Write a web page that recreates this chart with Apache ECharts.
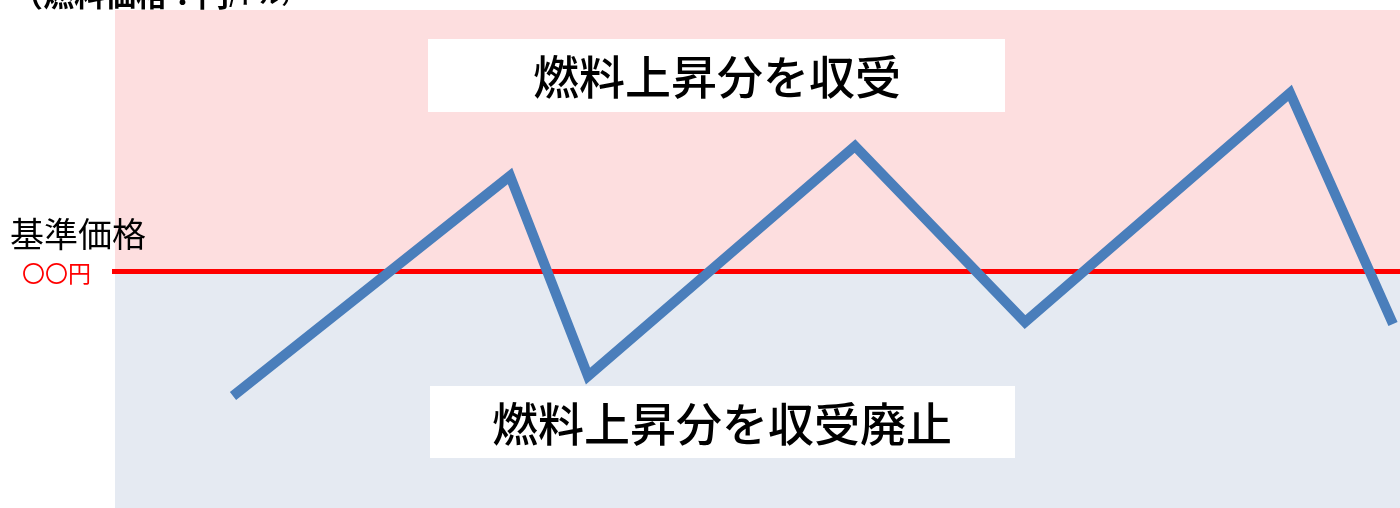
<!DOCTYPE html>
<html><head><meta charset="utf-8">
<script src="https://cdn.jsdelivr.net/npm/echarts@6/dist/echarts.min.js"></script>
<style>html,body{margin:0;padding:0;background:#fff}#c{width:1400px;height:508px}</style>
</head><body><div id="c"></div>
<script>
// x: position along the time axis (chart units), y: fuel price (chart units)
const xValues = [118, 395, 473, 740, 910, 1175, 1278];
const priceValues = [112, 332, 132, 362, 186, 415, 184];
const basePrice = 237;
const yMax = 498;
const xMax = 1285;
const axisTitle = '（燃料価格：円';
const axisTitleUnit = '/ドル）';
const baseLabel = '基準価格';
const baseValueLabel = '〇〇円';
const upperLabel = '燃料上昇分を収受';
const lowerLabel = '燃料上昇分を収受廃止';

const FONT = '"Noto Sans CJK JP", "Noto Sans", sans-serif';
const chart = echarts.init(document.getElementById('c'), null, {renderer: 'canvas'});
chart.setOption({
  animation: false,
  grid: {left: 115, right: 0, top: 10, bottom: 0},
  xAxis: {type: 'value', min: 0, max: xMax, show: false},
  yAxis: {type: 'value', min: 0, max: yMax, show: false},
  series: [{
    type: 'line',
    data: xValues.map((x, i) => [x, priceValues[i]]),
    symbol: 'none',
    lineStyle: {color: '#4A7EBB', width: 10, join: 'miter', cap: 'butt'},
    z: 5,
    markArea: {
      silent: true,
      data: [
        [{yAxis: basePrice, itemStyle: {color: '#FDDEDF'}}, {yAxis: yMax}],
        [{yAxis: 0, itemStyle: {color: '#E5EAF2'}}, {yAxis: basePrice}]
      ]
    },
    markLine: {
      silent: true, symbol: 'none', label: {show: false},
      lineStyle: {color: '#FF0000', width: 5, type: 'solid'},
      data: [{yAxis: basePrice}]
    }
  }],
  graphic: [
    {type: 'rect', shape: {x: 112, y: 269, width: 4, height: 5}, style: {fill: '#FF0000'}, z: 10},
    {type: 'rect', shape: {x: 428, y: 39, width: 577, height: 73}, style: {fill: '#FFFFFF'}, z: 10},
    {type: 'text', x: 717, y: 77, z: 11, style: {text: upperLabel, font: '500 46px ' + FONT, fill: '#000', align: 'center', verticalAlign: 'middle'}},
    {type: 'rect', shape: {x: 430, y: 386, width: 585, height: 72}, style: {fill: '#FFFFFF'}, z: 10},
    {type: 'text', x: 722, y: 424, z: 11, style: {text: lowerLabel, font: '500 46px ' + FONT, fill: '#000', align: 'center', verticalAlign: 'middle'}},
    {type: 'text', x: 10, y: 234, z: 11, style: {text: baseLabel, font: '34px ' + FONT, fill: '#000', align: 'left', verticalAlign: 'middle'}},
    {type: 'text', x: 22, y: 273, z: 11, style: {text: baseValueLabel, font: '23px ' + FONT, fill: '#FF0000', align: 'left', verticalAlign: 'middle'}},
    {type: 'text', x: 12, y: 10, z: 11, style: {
      text: '{a|' + axisTitle + '}{b|' + axisTitleUnit + '}', verticalAlign: 'bottom', align: 'left',
      rich: {a: {font: 'bold 31px ' + FONT, fill: '#000'}, b: {font: 'bold 22px ' + FONT, fill: '#000'}}
    }}
  ]
});
</script></body></html>
